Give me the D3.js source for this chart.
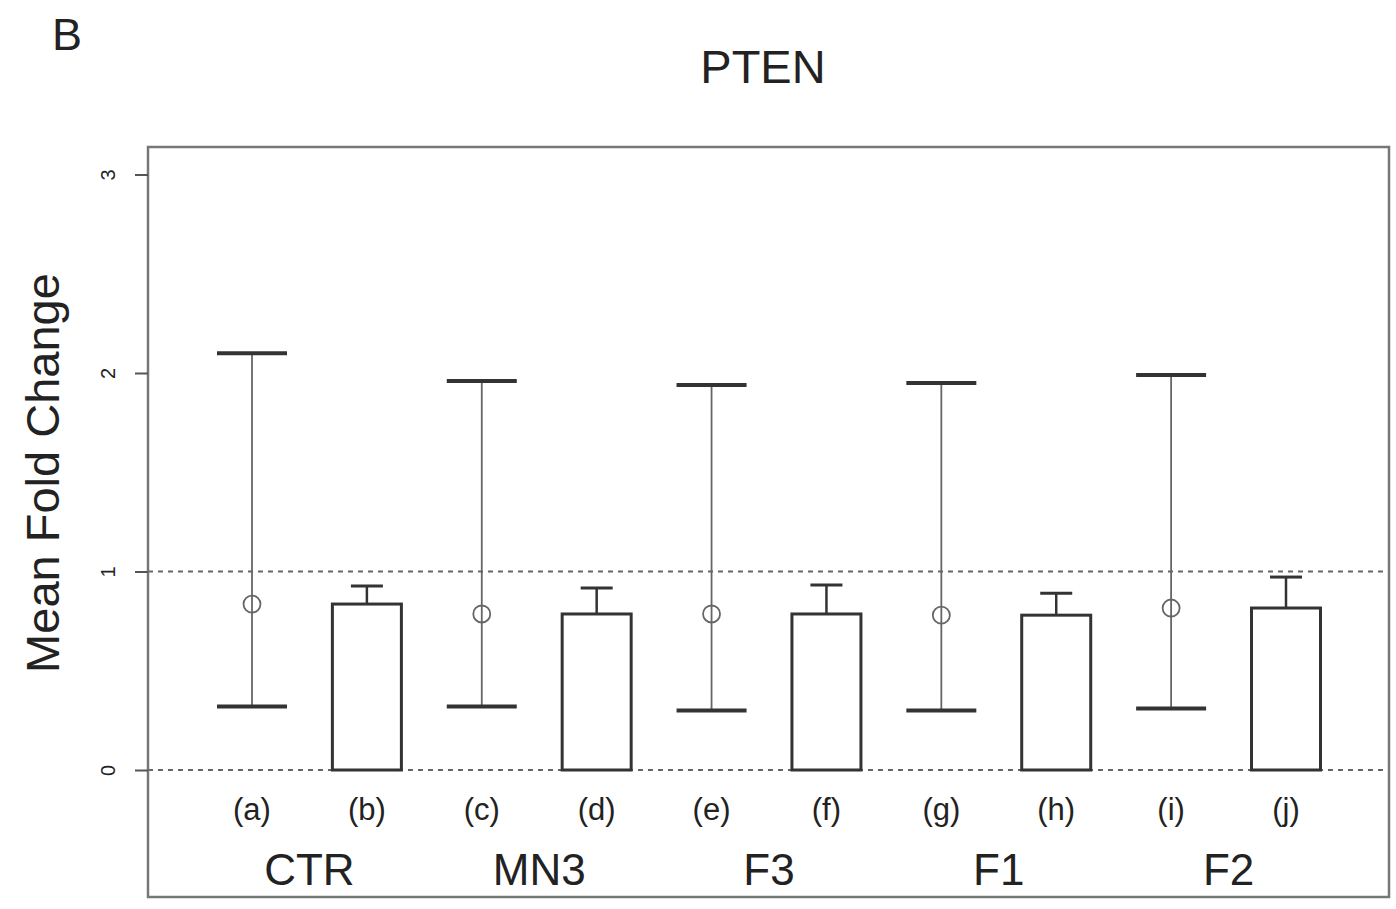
<!DOCTYPE html>
<html><head><meta charset="utf-8">
<script src="https://cdn.jsdelivr.net/npm/d3@7"></script>
<style>body{margin:0;background:#fff}svg{display:block}text{font-family:"Liberation Sans",Arial,sans-serif;fill:#222}</style>
</head><body>
<svg id="c" width="1396" height="909"></svg>
<script>
const ids = ["(a)","(b)","(c)","(d)","(e)","(f)","(g)","(h)","(i)","(j)"];
const groups = ["CTR","MN3","F3","F1","F2"];
// interval markers (odd columns)
const intMean = [0.836, 0.786, 0.786, 0.780, 0.816];
const intLow  = [0.32, 0.32, 0.30, 0.30, 0.31];
const intHigh = [2.10, 1.96, 1.94, 1.95, 1.99];
// bars (even columns)
const barMean = [0.836, 0.786, 0.786, 0.780, 0.816];
const barErr  = [0.927, 0.917, 0.932, 0.890, 0.972];
const yTicks = [0, 1, 2, 3];

const svg = d3.select("#c");
const L = 148, R = 1389, T = 147, B = 897;
const y = d3.scaleLinear().domain([0, 3]).range([770, 174.5]);
const x = d3.scalePoint().domain(ids).range([252, 1286]);

// dashed reference lines
[0, 1].forEach(v => {
  svg.append("line").attr("x1", L).attr("x2", R).attr("y1", y(v)).attr("y2", y(v))
    .attr("stroke", "#666").attr("stroke-width", 2).attr("stroke-dasharray", "5,5");
});

// box
svg.append("rect").attr("x", L).attr("y", T).attr("width", R - L).attr("height", B - T)
  .attr("fill", "none").attr("stroke", "#777").attr("stroke-width", 2.5);

// y axis
const ax = svg.append("g").attr("transform", `translate(${L},0)`)
  .call(d3.axisLeft(y).tickValues(yTicks).tickSize(13).tickFormat(d3.format("d")));
ax.select(".domain").remove();
ax.selectAll(".tick line").attr("stroke", "#555").attr("stroke-width", 2);
ax.selectAll(".tick text").attr("x", null).attr("dy", null)
  .attr("transform", "translate(-40,0) rotate(-90)").attr("text-anchor", "middle")
  .attr("dominant-baseline", "central").style("font-size", "20px").style("fill", "#222");

// intervals
const intData = intMean.map((m, i) => ({id: ids[2 * i], m, lo: intLow[i], hi: intHigh[i]}));
const gi = svg.append("g");
gi.selectAll(".wh").data(intData).join("line")
  .attr("x1", d => x(d.id)).attr("x2", d => x(d.id))
  .attr("y1", d => y(d.lo)).attr("y2", d => y(d.hi))
  .attr("stroke", "#666").attr("stroke-width", 1.8);
["lo", "hi"].forEach(k => {
  gi.selectAll(".cap" + k).data(intData).join("line")
    .attr("x1", d => x(d.id) - 35).attr("x2", d => x(d.id) + 35)
    .attr("y1", d => y(d[k])).attr("y2", d => y(d[k]))
    .attr("stroke", "#333").attr("stroke-width", 4);
});
gi.selectAll("circle").data(intData).join("circle")
  .attr("cx", d => x(d.id)).attr("cy", d => y(d.m)).attr("r", 8.5)
  .attr("fill", "none").attr("stroke", "#666").attr("stroke-width", 1.8);

// bars
const barData = barMean.map((m, i) => ({id: ids[2 * i + 1], m, e: barErr[i]}));
const gb = svg.append("g");
gb.selectAll(".eb").data(barData).join("line")
  .attr("x1", d => x(d.id)).attr("x2", d => x(d.id))
  .attr("y1", d => y(d.m)).attr("y2", d => y(d.e))
  .attr("stroke", "#333").attr("stroke-width", 2.5);
gb.selectAll(".ec").data(barData).join("line")
  .attr("x1", d => x(d.id) - 16).attr("x2", d => x(d.id) + 16)
  .attr("y1", d => y(d.e)).attr("y2", d => y(d.e))
  .attr("stroke", "#333").attr("stroke-width", 3);
gb.selectAll("rect").data(barData).join("rect")
  .attr("x", d => x(d.id) - 34.5).attr("width", 69)
  .attr("y", d => y(d.m)).attr("height", d => y(0) - y(d.m))
  .attr("fill", "#fff").attr("stroke", "#333").attr("stroke-width", 3);

// column labels
svg.selectAll(".idl").data(ids).join("text")
  .attr("x", d => x(d)).attr("y", 820).attr("text-anchor", "middle")
  .style("font-size", "31px").text(d => d);
// group labels
svg.selectAll(".grp").data(groups).join("text")
  .attr("x", (d, i) => (x(ids[2 * i]) + x(ids[2 * i + 1])) / 2).attr("y", 885)
  .attr("text-anchor", "middle").style("font-size", "44px").text(d => d);

// title and panel letter
svg.append("text").attr("x", 763).attr("y", 83).attr("text-anchor", "middle")
  .style("font-size", "47px").text("PTEN");
svg.append("text").attr("x", 52).attr("y", 50).style("font-size", "45px").text("B");
// y title
svg.append("text").attr("transform", "translate(59,473) rotate(-90)").attr("text-anchor", "middle")
  .style("font-size", "47px").text("Mean Fold Change");
</script>
</body></html>
